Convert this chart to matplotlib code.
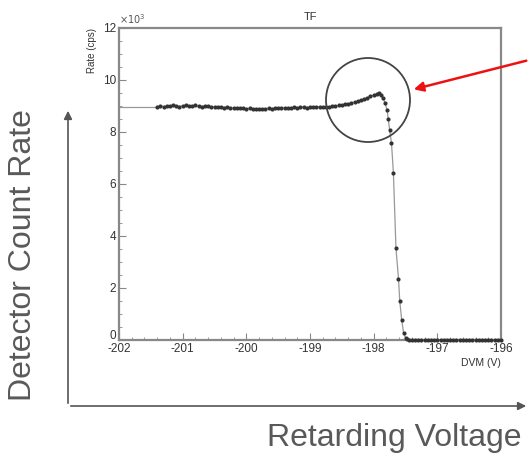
import matplotlib.pyplot as plt
import numpy as np
from matplotlib.patches import Circle, FancyArrowPatch
from matplotlib.transforms import ScaledTranslation

# scan points: retarding voltage (V) and measured rate (x10^3 cps)
volts = [
    -201.40, -201.35, -201.30, -201.25, -201.20, -201.15, -201.10, -201.05,
    -201.00, -200.95, -200.90, -200.85, -200.80, -200.75, -200.70, -200.65,
    -200.60, -200.55, -200.50, -200.45, -200.40, -200.35, -200.30, -200.25,
    -200.20, -200.15, -200.10, -200.05, -200.00, -199.95, -199.90, -199.85,
    -199.80, -199.75, -199.70, -199.65, -199.60, -199.55, -199.50, -199.45,
    -199.40, -199.35, -199.30, -199.25, -199.20, -199.15, -199.10, -199.05,
    -199.00, -198.95, -198.90, -198.85, -198.80, -198.75, -198.70, -198.65,
    -198.60, -198.55, -198.50, -198.45, -198.40, -198.35, -198.30, -198.25,
    -198.20, -198.15, -198.10, -198.05, -198.00, -197.95, -197.92, -197.88,
    -197.85, -197.82, -197.79, -197.77, -197.75, -197.72, -197.69, -197.65,
    -197.61, -197.59, -197.56, -197.53, -197.50, -197.47, -197.44, -197.40,
    -197.35, -197.30, -197.25, -197.20, -197.15, -197.10, -197.05, -197.00,
    -196.95, -196.90, -196.85, -196.80, -196.75, -196.70, -196.65, -196.60,
    -196.55, -196.50, -196.45, -196.40, -196.35, -196.30, -196.25, -196.20,
    -196.15, -196.10, -196.05, -196.00,
]
rate = [
    8.98, 9.00, 8.97, 9.01, 8.99, 9.02, 9.00, 8.98,
    9.01, 9.03, 9.00, 8.99, 9.02, 9.00, 8.98, 9.01,
    8.99, 8.97, 8.96, 8.98, 8.95, 8.94, 8.96, 8.93,
    8.92, 8.94, 8.91, 8.92, 8.90, 8.91, 8.89, 8.90,
    8.88, 8.90, 8.89, 8.91, 8.90, 8.92, 8.91, 8.93,
    8.92, 8.94, 8.93, 8.95, 8.94, 8.96, 8.95, 8.94,
    8.96, 8.95, 8.97, 8.96, 8.95, 8.97, 8.97, 8.99,
    9.00, 9.02, 9.03, 9.06, 9.08, 9.12, 9.15, 9.18,
    9.22, 9.27, 9.32, 9.37, 9.42, 9.48, 9.50, 9.44,
    9.30, 9.10, 8.85, 8.50, 8.08, 7.58, 6.42, 3.54,
    2.35, 1.50, 0.77, 0.27, 0.08, 0.03, 0.01, 0.00,
    0.00, 0.00, 0.00, 0.00, 0.00, 0.00, 0.00, 0.00,
    0.00, 0.00, 0.00, 0.00, 0.00, 0.00, 0.00, 0.00,
    0.00, 0.00, 0.00, 0.00, 0.00, 0.00, 0.00, 0.00,
    0.00, 0.00, 0.00, 0.00,
]

# flat part of the fit curve left of the first scan point
fit_volts = [-202.0, -201.40]
fit_rate = [8.95, 8.95]

x_ticks = [-202, -201, -200, -199, -198, -197, -196]
y_ticks = [0, 2, 4, 6, 8, 10, 12]

plt.rcParams['font.family'] = ['Liberation Sans', 'DejaVu Sans']

fig = plt.figure(figsize=(5.29, 4.57), dpi=100)
W, H = 529, 457
ax = fig.add_axes([119 / W, 1 - 340 / H, 382 / W, 312 / H])

ax.plot(fit_volts, fit_rate, color='#999999', lw=0.9)
ax.plot(volts, rate, color='#999999', lw=0.9, clip_on=False)
ax.plot(volts, rate, 'o', color='#333333', ms=3.0, mew=0, clip_on=False, zorder=3)

ax.set_xlim(-202, -196)
ax.set_ylim(0, 12)
ax.set_xticks(x_ticks)
ax.set_yticks(y_ticks)
ax.set_xticklabels([str(v) for v in x_ticks])
ax.set_yticklabels([str(v) for v in y_ticks])
ax.xaxis.set_minor_locator(plt.MultipleLocator(0.2))
ax.yaxis.set_minor_locator(plt.MultipleLocator(0.5))
ax.tick_params(which='both', direction='in', colors='#888888', labelcolor='#333333',
               labelsize=8.5, top=False, right=False, pad=2)
ax.tick_params(which='major', length=5, width=0.8)
ax.tick_params(which='minor', length=2.5, width=0.6)
for s in ax.spines.values():
    s.set_color('#888888')
    s.set_linewidth(1.6)

# nudge the "0" up a little so it sits just above "-202"
zero_lbl = ax.get_yticklabels()[0]
zero_lbl.set_transform(zero_lbl.get_transform() + ScaledTranslation(0, 4 / 72, fig.dpi_scale_trans))

ax.set_title('TF', fontsize=8, color='#333333', pad=6)
ax.text(0.0, 1.005, r'$\times10^{3}$', transform=ax.transAxes, fontsize=7,
        color='#555555', ha='left', va='bottom')
ax.set_ylabel('Rate (cps)', fontsize=7, color='#333333', loc='top', labelpad=4)
ax.set_xlabel('DVM (V)', fontsize=7.5, color='#333333', loc='right', labelpad=2)

# circle highlighting the bump
circ = Circle((368, H - 100), 42, transform=None, fill=False,
              edgecolor='#444444', lw=1.3)
fig.add_artist(circ)

# red arrow pointing at the circle
fig.add_artist(FancyArrowPatch((529, H - 60), (411, H - 90), transform=None,
                               arrowstyle='-|>', mutation_scale=14,
                               color='#ee1111', lw=1.8))

# outer axes arrows
fig.add_artist(FancyArrowPatch((68, H - 406), (68, H - 108), transform=None,
                               arrowstyle='-|>', mutation_scale=12,
                               color='#555555', lw=1.2))
fig.add_artist(FancyArrowPatch((68, H - 406), (529, H - 406), transform=None,
                               arrowstyle='-|>', mutation_scale=12,
                               color='#555555', lw=1.2))

fig.text(23 / W, 1 - 255 / H, 'Detector Count Rate', rotation=90, fontsize=23,
         color='#595959', ha='center', va='center')
fig.text(394 / W, 1 - 438 / H, 'Retarding Voltage', fontsize=23,
         color='#595959', ha='center', va='center')

fig.savefig('out.png', dpi=100)
